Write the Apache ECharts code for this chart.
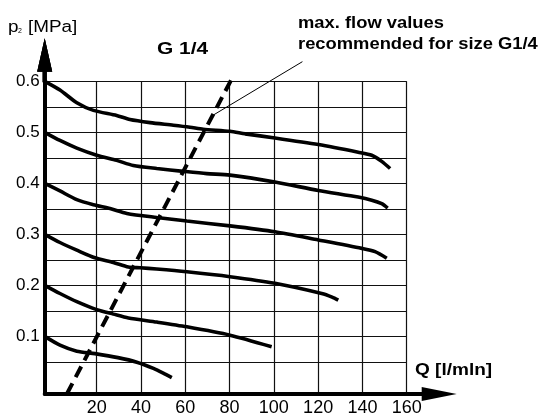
<!DOCTYPE html>
<html><head><meta charset="utf-8">
<script src="https://cdn.jsdelivr.net/npm/echarts@6/dist/echarts.min.js"></script>
<style>html,body{margin:0;padding:0;background:#fff}#c{width:543px;height:414px}</style>
</head><body><div id="c"></div>
<script>
// Axis ticks (the picture's axis line sits slightly left/below the labelled 0)
const xMin = -3.5, xMax = 160;
const yMin = -0.013, yMax = 0.6;
const xTicks = [20, 40, 60, 80, 100, 120, 140, 160];
const yGridTicks = [0.05, 0.1, 0.15, 0.2, 0.25, 0.3, 0.35, 0.4, 0.45, 0.5, 0.55, 0.6];
const yLabelTicks = [0.1, 0.2, 0.3, 0.4, 0.5, 0.6];

// Pressure curves p2 vs Q, one per set pressure: [Q l/min, p2 MPa]
const p06 = [[-3.5,0.600],[3.4,0.583],[11.0,0.558],[18.5,0.543],[29.0,0.533],[35.0,0.525],[44.1,0.519],[54.6,0.514],[62.1,0.510],[68.1,0.506],[80.2,0.502],[87.0,0.497],[100.5,0.489],[120.1,0.476],[138.1,0.461],[144.2,0.455],[148.7,0.443],[152.5,0.429]];
const p05 = [[-3.5,0.500],[3.4,0.484],[11.0,0.469],[20.0,0.455],[29.0,0.445],[36.5,0.435],[47.1,0.429],[59.1,0.4235],[69.7,0.419],[80.2,0.416],[100.5,0.4025],[120.1,0.386],[138.1,0.373],[144.2,0.367],[148.7,0.360],[151.4,0.3515]];
const p04 = [[-3.5,0.400],[3.4,0.385],[11.0,0.368],[18.5,0.358],[26.0,0.3505],[33.6,0.341],[47.1,0.333],[60.7,0.326],[80.2,0.3166],[100.5,0.305],[120.1,0.289],[139.7,0.2725],[145.7,0.266],[151.0,0.253]];
const p03 = [[-3.5,0.300],[3.4,0.284],[11.0,0.269],[19.2,0.254],[27.5,0.245],[34.3,0.236],[39.6,0.2344],[47.1,0.232],[60.7,0.2266],[80.2,0.217],[100.5,0.204],[121.6,0.184],[126.3,0.177],[129.1,0.171]];
const p02 = [[-3.5,0.200],[3.4,0.184],[11.0,0.168],[20.0,0.1524],[27.5,0.1436],[34.3,0.136],[47.1,0.128],[60.7,0.1187],[80.2,0.1024],[99.0,0.0798]];
const p01 = [[-3.5,0.100],[3.4,0.0828],[11.0,0.071],[19.2,0.0661],[29.6,0.0583],[38.1,0.0494],[45.6,0.0371],[50.9,0.0259],[53.9,0.019]];

// Max recommended flow (dashed) and annotation leader line
const maxFlow = [[6.5,-0.013],[81.0,0.605]];
const leader = [[112.9,0.6385],[71.2,0.530]];

const curves = [p06, p05, p04, p03, p02, p01];
const FONT = '"Liberation Sans", Arial, sans-serif';
const GRID_LEFT = 44.7, GRID_TOP = 81.3;
const Y_ARROW = 'path://M15,0L30,67L19,67L19,88L11,88L11,67L0,67Z';

const chart = echarts.init(document.getElementById('c'), null, {renderer: 'canvas'});
const series = curves.map(d => ({
  type: 'line', data: d, smooth: 0.25, symbol: 'none',
  lineStyle: {color: '#000', width: 3.6}
}));
series.push({
  type: 'line', data: maxFlow, symbol: 'none', clip: false,
  lineStyle: {color: '#000', width: 4, type: [12, 7]}
});
series.push({
  type: 'line', data: leader, symbol: 'none', clip: false,
  lineStyle: {color: '#000', width: 1}
});
// arrow head of the p2 axis, anchored at the axis corner (own layer)
series.push({
  type: 'scatter', data: [[xMin, yMax]], clip: false, zlevel: 1, z: 5,
  symbol: Y_ARROW, symbolSize: [15, 44], symbolOffset: [0, -21],
  itemStyle: {color: '#000'}
});

chart.setOption({
  animation: false,
  backgroundColor: '#fff',
  tooltip: {show: false},
  grid: {left: GRID_LEFT, top: GRID_TOP, width: 362, height: 312.7, containLabel: false, outerBoundsMode: 'none'},
  xAxis: {
    type: 'value', min: xMin, max: xMax,
    axisLine: {show: true, onZero: false, lineStyle: {color: '#000', width: 4},
      symbol: ['none', 'path://M14,0L28,70L18,70L18,102L10,102L10,70L0,70Z'], symbolSize: [14, 51], symbolOffset: [0, 24.5]},
    axisTick: {show: false, customValues: xTicks},
    axisLabel: {customValues: xTicks, color: '#000', fontSize: 18, fontFamily: FONT, margin: 5},
    splitLine: {show: true, lineStyle: {color: '#111', width: 1.2}}
  },
  yAxis: {
    type: 'value', min: yMin, max: yMax,
    axisLine: {show: true, onZero: false, lineStyle: {color: '#000', width: 4},
      symbol: ['none', Y_ARROW], symbolSize: [15, 44], symbolOffset: [0, 21]},
    axisTick: {show: false, customValues: yGridTicks},
    axisLabel: {customValues: yLabelTicks, color: '#000', fontSize: 17, fontFamily: FONT, margin: 5},
    splitLine: {show: true, lineStyle: {color: '#111', width: 1.2}}
  },
  graphic: [
    {type: 'polygon', zlevel: 1, z: 100,
     shape: {points: [[GRID_LEFT, GRID_TOP - 43], [GRID_LEFT + 7.5, GRID_TOP - 9.7], [GRID_LEFT + 2, GRID_TOP - 9.7], [GRID_LEFT + 2, GRID_TOP + 1],
                      [GRID_LEFT - 2, GRID_TOP + 1], [GRID_LEFT - 2, GRID_TOP - 9.7], [GRID_LEFT - 7.5, GRID_TOP - 9.7]]},
     style: {fill: '#000'}},
    {type: 'text', x: 8, y: 27.5, scaleX: 1.18,
     style: {text: 'p', fontSize: 16, fontFamily: FONT, fill: '#000', align: 'left', verticalAlign: 'middle'}},
    {type: 'text', x: 18, y: 30.8,
     style: {text: '2', fontSize: 7, fontFamily: FONT, fill: '#000', align: 'left', verticalAlign: 'middle'}},
    {type: 'text', x: 28, y: 27.5, scaleX: 1.18,
     style: {text: '[MPa]', fontSize: 16, fontFamily: FONT, fill: '#000', align: 'left', verticalAlign: 'middle'}},
    {type: 'text', x: 157, y: 49.2, scaleX: 1.23,
     style: {text: 'G 1/4', fontSize: 17, fontWeight: 'bold', fontFamily: FONT, fill: '#000', align: 'left', verticalAlign: 'middle'}},
    {type: 'text', x: 298, y: 23, scaleX: 1.08,
     style: {text: 'max. flow values', fontSize: 17, fontWeight: 'bold', fontFamily: FONT, fill: '#000', align: 'left', verticalAlign: 'middle'}},
    {type: 'text', x: 298, y: 44, scaleX: 1.08,
     style: {text: 'recommended for size G1/4', fontSize: 17, fontWeight: 'bold', fontFamily: FONT, fill: '#000', align: 'left', verticalAlign: 'middle'}},
    {type: 'text', x: 415, y: 370.5, scaleX: 1.12,
     style: {text: 'Q [l/mln]', fontSize: 17, fontWeight: 'bold', fontFamily: FONT, fill: '#000', align: 'left', verticalAlign: 'middle'}}
  ],
  series: series
});
</script>
</body></html>
